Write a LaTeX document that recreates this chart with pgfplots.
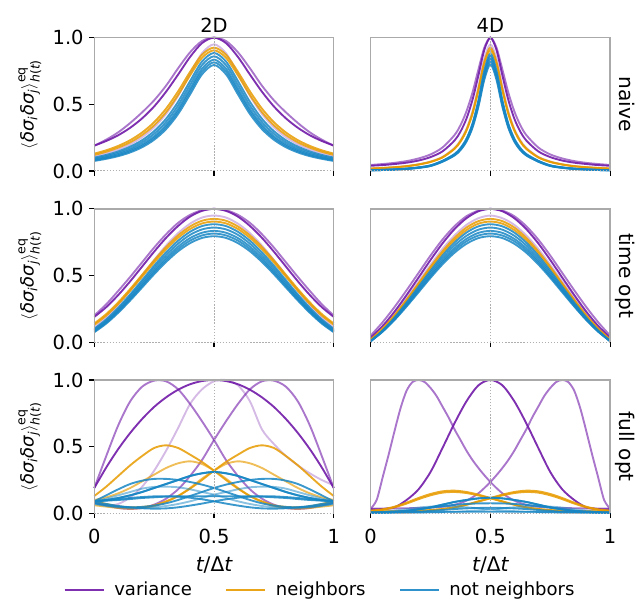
\documentclass[12pt,border=0pt]{standalone}
\usepackage{fontspec}
\setmainfont{DejaVu Sans}
\usepackage{pgfplots}
\pgfplotsset{compat=1.18}
\usepackage{pgfplotstable}
\usetikzlibrary{calc}

\definecolor{cpur}{RGB}{112,26,168}
\definecolor{corg}{RGB}{232,155,0}
\definecolor{cblu}{RGB}{24,134,196}
\definecolor{cspine}{RGB}{170,170,170}
\definecolor{cdot}{RGB}{175,175,175}

\newcommand{\sm}[1]{\mbox{\fontsize{9}{10}\selectfont #1}}
\newcommand{\ylab}{$\langle\mbox{\itshape δσ}_{\sm{\itshape i}}\mbox{\itshape δσ}_{\sm{\itshape j}}\rangle^{\sm{eq}}_{\sm{\itshape h}\sm{(}\sm{\itshape t}\sm{)}}$}

% 2D naive
\pgfplotstableread{
t pd pl pp o1 o2 b1 b2 b3 b4 b5
0.00 0.190 0.190 0.110 0.130 0.120 0.100 0.092 0.085 0.080 0.075
0.05 0.225 0.235 0.132 0.155 0.144 0.120 0.111 0.103 0.097 0.091
0.10 0.268 0.290 0.161 0.188 0.175 0.147 0.136 0.126 0.118 0.111
0.15 0.324 0.360 0.200 0.231 0.215 0.183 0.169 0.157 0.148 0.139
0.20 0.395 0.440 0.253 0.289 0.270 0.231 0.215 0.200 0.189 0.178
0.25 0.484 0.530 0.327 0.366 0.343 0.299 0.279 0.260 0.247 0.234
0.30 0.595 0.640 0.428 0.468 0.442 0.392 0.368 0.346 0.330 0.314
0.35 0.723 0.770 0.563 0.597 0.570 0.519 0.491 0.465 0.446 0.427
0.40 0.855 0.890 0.728 0.743 0.717 0.674 0.645 0.617 0.596 0.574
0.45 0.959 0.975 0.883 0.872 0.849 0.821 0.794 0.767 0.746 0.725
0.50 1.000 1.000 0.950 0.925 0.905 0.885 0.860 0.835 0.815 0.795
0.55 0.959 0.975 0.883 0.872 0.849 0.821 0.794 0.767 0.746 0.725
0.60 0.855 0.890 0.728 0.743 0.717 0.674 0.645 0.617 0.596 0.574
0.65 0.723 0.770 0.563 0.597 0.570 0.519 0.491 0.465 0.446 0.427
0.70 0.595 0.640 0.428 0.468 0.442 0.392 0.368 0.346 0.330 0.314
0.75 0.484 0.530 0.327 0.366 0.343 0.299 0.279 0.260 0.247 0.234
0.80 0.395 0.440 0.253 0.289 0.270 0.231 0.215 0.200 0.189 0.178
0.85 0.324 0.360 0.200 0.231 0.215 0.183 0.169 0.157 0.148 0.139
0.90 0.268 0.290 0.161 0.188 0.175 0.147 0.136 0.126 0.118 0.111
0.95 0.225 0.235 0.132 0.155 0.144 0.120 0.111 0.103 0.097 0.091
1.00 0.190 0.190 0.110 0.130 0.120 0.100 0.092 0.085 0.080 0.075
}\tA

% 4D naive
\pgfplotstableread{
t pd pl pp o1 o2 b1 b2 b3 b4 b5
0.000 0.039 0.045 0.019 0.018 0.018 0.006 0.006 0.005 0.005 0.005
0.050 0.044 0.052 0.023 0.022 0.022 0.008 0.008 0.007 0.007 0.007
0.100 0.052 0.061 0.029 0.028 0.027 0.012 0.011 0.011 0.010 0.010
0.150 0.062 0.074 0.037 0.036 0.035 0.018 0.017 0.016 0.016 0.015
0.200 0.078 0.094 0.050 0.049 0.048 0.027 0.026 0.025 0.024 0.023
0.250 0.104 0.124 0.071 0.069 0.067 0.042 0.041 0.040 0.038 0.037
0.300 0.147 0.176 0.106 0.103 0.101 0.076 0.075 0.073 0.071 0.069
0.350 0.228 0.269 0.173 0.168 0.165 0.127 0.124 0.121 0.118 0.116
0.375 0.295 0.343 0.230 0.224 0.219 0.172 0.168 0.164 0.160 0.156
0.400 0.392 0.447 0.316 0.308 0.302 0.242 0.237 0.231 0.226 0.220
0.425 0.532 0.587 0.447 0.435 0.426 0.355 0.347 0.339 0.331 0.323
0.450 0.717 0.761 0.634 0.617 0.603 0.531 0.519 0.507 0.495 0.482
0.475 0.910 0.927 0.844 0.822 0.804 0.756 0.738 0.721 0.704 0.687
0.500 1.000 1.000 0.950 0.925 0.905 0.880 0.860 0.840 0.820 0.800
0.525 0.910 0.927 0.844 0.822 0.804 0.756 0.738 0.721 0.704 0.687
0.550 0.717 0.761 0.634 0.617 0.603 0.531 0.519 0.507 0.495 0.482
0.575 0.532 0.587 0.447 0.435 0.426 0.355 0.347 0.339 0.331 0.323
0.600 0.392 0.447 0.316 0.308 0.302 0.242 0.237 0.231 0.226 0.220
0.625 0.295 0.343 0.230 0.224 0.219 0.172 0.168 0.164 0.160 0.156
0.650 0.228 0.269 0.173 0.168 0.165 0.127 0.124 0.121 0.118 0.116
0.700 0.147 0.176 0.106 0.103 0.101 0.076 0.075 0.073 0.071 0.069
0.750 0.104 0.124 0.071 0.069 0.067 0.042 0.041 0.040 0.038 0.037
0.800 0.078 0.094 0.050 0.049 0.048 0.027 0.026 0.025 0.024 0.023
0.850 0.062 0.074 0.037 0.036 0.035 0.018 0.017 0.016 0.016 0.015
0.900 0.052 0.061 0.029 0.028 0.027 0.012 0.011 0.011 0.010 0.010
0.950 0.044 0.052 0.023 0.022 0.022 0.008 0.008 0.007 0.007 0.007
1.000 0.039 0.045 0.019 0.018 0.018 0.006 0.006 0.005 0.005 0.005
}\tB

% 2D time opt
\pgfplotstableread{
t pd pl pp o1 o2 b1 b2 b3 b4 b5
0.00 0.190 0.200 0.110 0.140 0.130 0.100 0.092 0.085 0.080 0.075
0.05 0.263 0.285 0.186 0.211 0.200 0.171 0.162 0.153 0.147 0.140
0.10 0.354 0.385 0.280 0.299 0.287 0.259 0.247 0.237 0.229 0.221
0.15 0.457 0.490 0.387 0.399 0.386 0.359 0.346 0.333 0.323 0.313
0.20 0.568 0.600 0.502 0.506 0.492 0.466 0.450 0.435 0.423 0.411
0.25 0.679 0.710 0.617 0.614 0.598 0.574 0.556 0.538 0.524 0.510
0.30 0.783 0.810 0.725 0.714 0.697 0.674 0.654 0.634 0.618 0.602
0.35 0.872 0.895 0.818 0.801 0.783 0.761 0.739 0.717 0.699 0.682
0.40 0.942 0.955 0.889 0.868 0.849 0.828 0.805 0.781 0.762 0.743
0.45 0.985 0.990 0.935 0.911 0.891 0.871 0.846 0.821 0.801 0.782
0.50 1.000 1.000 0.950 0.925 0.905 0.885 0.860 0.835 0.815 0.795
0.55 0.985 0.990 0.935 0.911 0.891 0.871 0.846 0.821 0.801 0.782
0.60 0.942 0.955 0.889 0.868 0.849 0.828 0.805 0.781 0.762 0.743
0.65 0.872 0.895 0.818 0.801 0.783 0.761 0.739 0.717 0.699 0.682
0.70 0.783 0.810 0.725 0.714 0.697 0.674 0.654 0.634 0.618 0.602
0.75 0.679 0.710 0.617 0.614 0.598 0.574 0.556 0.538 0.524 0.510
0.80 0.568 0.600 0.502 0.506 0.492 0.466 0.450 0.435 0.423 0.411
0.85 0.457 0.490 0.387 0.399 0.386 0.359 0.346 0.333 0.323 0.313
0.90 0.354 0.385 0.280 0.299 0.287 0.259 0.247 0.237 0.229 0.221
0.95 0.263 0.285 0.186 0.211 0.200 0.171 0.162 0.153 0.147 0.140
1.00 0.190 0.200 0.110 0.140 0.130 0.100 0.092 0.085 0.080 0.075
}\tC

% 4D time opt
\pgfplotstableread{
t pd pl pp o1 o2 b1 b2 b3 b4 b5
0.00 0.035 0.050 0.020 0.020 0.018 0.008 0.008 0.008 0.008 0.008
0.05 0.122 0.150 0.105 0.102 0.098 0.087 0.085 0.083 0.081 0.079
0.10 0.230 0.265 0.210 0.203 0.197 0.185 0.180 0.175 0.171 0.167
0.15 0.354 0.390 0.330 0.319 0.311 0.298 0.289 0.281 0.274 0.268
0.20 0.485 0.520 0.455 0.442 0.432 0.417 0.406 0.394 0.385 0.375
0.25 0.617 0.650 0.580 0.566 0.553 0.537 0.522 0.507 0.495 0.483
0.30 0.741 0.770 0.700 0.682 0.667 0.650 0.631 0.613 0.599 0.584
0.35 0.848 0.870 0.800 0.782 0.765 0.747 0.726 0.705 0.688 0.671
0.40 0.930 0.945 0.880 0.860 0.841 0.822 0.798 0.775 0.757 0.738
0.45 0.982 0.987 0.930 0.908 0.889 0.869 0.844 0.820 0.800 0.781
0.50 1.000 1.000 0.950 0.925 0.905 0.885 0.860 0.835 0.815 0.795
0.55 0.982 0.987 0.930 0.908 0.889 0.869 0.844 0.820 0.800 0.781
0.60 0.930 0.945 0.880 0.860 0.841 0.822 0.798 0.775 0.757 0.738
0.65 0.848 0.870 0.800 0.782 0.765 0.747 0.726 0.705 0.688 0.671
0.70 0.741 0.770 0.700 0.682 0.667 0.650 0.631 0.613 0.599 0.584
0.75 0.617 0.650 0.580 0.566 0.553 0.537 0.522 0.507 0.495 0.483
0.80 0.485 0.520 0.455 0.442 0.432 0.417 0.406 0.394 0.385 0.375
0.85 0.354 0.390 0.330 0.319 0.311 0.298 0.289 0.281 0.274 0.268
0.90 0.230 0.265 0.210 0.203 0.197 0.185 0.180 0.175 0.171 0.167
0.95 0.122 0.150 0.105 0.102 0.098 0.087 0.085 0.083 0.081 0.079
1.00 0.035 0.050 0.020 0.020 0.018 0.008 0.008 0.008 0.008 0.008
}\tD

% 2D full opt
\pgfplotstableread{
t pd lp rp pp ol1 or1 ol2 or2 bc bl1 br1 bl2 br2 bf bx1 bx2
0.00 0.190 0.190 0.080 0.080 0.130 0.090 0.100 0.060 0.090 0.090 0.075 0.085 0.070 0.090 0.085 0.090
0.05 0.344 0.430 0.060 0.060 0.200 0.070 0.120 0.050 0.100 0.135 0.060 0.110 0.055 0.095 0.070 0.097
0.10 0.482 0.660 0.040 0.070 0.280 0.052 0.150 0.040 0.115 0.180 0.050 0.135 0.045 0.100 0.055 0.106
0.15 0.603 0.840 0.033 0.120 0.360 0.045 0.190 0.035 0.135 0.220 0.045 0.160 0.040 0.107 0.045 0.115
0.20 0.708 0.950 0.040 0.200 0.430 0.048 0.240 0.040 0.160 0.245 0.048 0.185 0.040 0.115 0.038 0.122
0.25 0.798 0.995 0.065 0.320 0.490 0.060 0.290 0.055 0.190 0.258 0.058 0.198 0.045 0.120 0.035 0.127
0.30 0.870 0.990 0.110 0.470 0.510 0.090 0.340 0.085 0.220 0.258 0.075 0.200 0.055 0.125 0.037 0.128
0.35 0.927 0.930 0.180 0.640 0.490 0.130 0.375 0.130 0.250 0.250 0.100 0.195 0.070 0.127 0.045 0.125
0.40 0.968 0.820 0.280 0.820 0.440 0.185 0.390 0.190 0.280 0.235 0.130 0.180 0.090 0.128 0.058 0.117
0.45 0.992 0.690 0.400 0.930 0.385 0.250 0.370 0.260 0.300 0.215 0.160 0.160 0.115 0.128 0.073 0.105
0.50 1.000 0.550 0.550 0.990 0.320 0.320 0.320 0.320 0.310 0.190 0.190 0.140 0.140 0.128 0.090 0.090
0.55 0.992 0.400 0.690 1.000 0.250 0.385 0.260 0.370 0.300 0.160 0.215 0.115 0.160 0.128 0.105 0.073
0.60 0.968 0.280 0.820 0.960 0.185 0.440 0.190 0.390 0.280 0.130 0.235 0.090 0.180 0.128 0.117 0.058
0.65 0.927 0.180 0.930 0.840 0.130 0.490 0.130 0.375 0.250 0.100 0.250 0.070 0.195 0.127 0.125 0.045
0.70 0.870 0.110 0.990 0.630 0.090 0.510 0.085 0.340 0.220 0.075 0.258 0.055 0.200 0.125 0.128 0.037
0.75 0.798 0.065 0.995 0.520 0.060 0.490 0.055 0.290 0.190 0.058 0.258 0.045 0.198 0.120 0.127 0.035
0.80 0.708 0.040 0.950 0.430 0.048 0.430 0.040 0.240 0.160 0.048 0.245 0.040 0.185 0.115 0.122 0.038
0.85 0.603 0.033 0.840 0.360 0.045 0.360 0.035 0.190 0.135 0.045 0.220 0.040 0.160 0.107 0.115 0.045
0.90 0.482 0.040 0.660 0.300 0.052 0.280 0.040 0.150 0.115 0.050 0.180 0.045 0.135 0.100 0.106 0.055
0.95 0.344 0.060 0.430 0.250 0.070 0.200 0.050 0.120 0.100 0.060 0.135 0.055 0.110 0.095 0.097 0.070
1.00 0.190 0.080 0.190 0.210 0.090 0.130 0.060 0.100 0.090 0.075 0.090 0.070 0.085 0.090 0.090 0.085
}\tE

% 4D full opt, off-centre variances
\pgfplotstableread{
t lp rp
0.000 0.035 0.035
0.025 0.100 0.036
0.050 0.270 0.036
0.075 0.440 0.037
0.100 0.620 0.037
0.125 0.790 0.038
0.150 0.920 0.038
0.175 0.985 0.039
0.200 1.000 0.040
0.225 0.985 0.041
0.250 0.940 0.043
0.275 0.880 0.046
0.300 0.800 0.049
0.325 0.720 0.055
0.350 0.630 0.064
0.375 0.550 0.077
0.400 0.470 0.095
0.425 0.400 0.120
0.450 0.340 0.150
0.475 0.285 0.190
0.500 0.235 0.235
0.525 0.190 0.285
0.550 0.150 0.340
0.575 0.120 0.400
0.600 0.095 0.470
0.625 0.077 0.550
0.650 0.064 0.630
0.675 0.055 0.720
0.700 0.049 0.800
0.725 0.046 0.880
0.750 0.043 0.940
0.775 0.041 0.985
0.800 0.040 1.000
0.825 0.039 0.985
0.850 0.038 0.920
0.875 0.038 0.790
0.900 0.037 0.620
0.925 0.037 0.440
0.950 0.036 0.270
0.975 0.036 0.100
1.000 0.035 0.035
}\tFa

% 4D full opt, rest
\pgfplotstableread{
t pd ol or ol2 or2 bc bm bl br blow bbase
0.00 0.030 0.020 0.018 0.018 0.016 0.005 0.005 0.005 0.005 0.004 0.006
0.05 0.032 0.030 0.016 0.027 0.015 0.007 0.007 0.010 0.004 0.005 0.006
0.10 0.045 0.050 0.015 0.045 0.015 0.010 0.012 0.020 0.004 0.006 0.007
0.15 0.100 0.080 0.016 0.073 0.016 0.018 0.020 0.032 0.004 0.008 0.008
0.20 0.180 0.115 0.019 0.106 0.019 0.030 0.030 0.043 0.005 0.012 0.009
0.25 0.310 0.145 0.024 0.135 0.024 0.045 0.042 0.050 0.006 0.018 0.010
0.30 0.490 0.165 0.032 0.155 0.032 0.065 0.054 0.052 0.008 0.025 0.011
0.35 0.675 0.170 0.045 0.160 0.045 0.085 0.063 0.050 0.011 0.032 0.012
0.40 0.840 0.160 0.065 0.152 0.064 0.100 0.070 0.045 0.016 0.037 0.012
0.45 0.960 0.140 0.090 0.134 0.088 0.112 0.074 0.038 0.022 0.040 0.012
0.50 1.000 0.115 0.115 0.112 0.112 0.117 0.075 0.030 0.030 0.042 0.012
0.55 0.960 0.090 0.140 0.088 0.134 0.112 0.074 0.022 0.038 0.040 0.012
0.60 0.840 0.065 0.160 0.064 0.152 0.100 0.070 0.016 0.045 0.037 0.012
0.65 0.675 0.045 0.170 0.045 0.160 0.085 0.063 0.011 0.050 0.032 0.012
0.70 0.490 0.032 0.165 0.032 0.155 0.065 0.054 0.008 0.052 0.025 0.011
0.75 0.310 0.024 0.145 0.024 0.135 0.045 0.042 0.006 0.050 0.018 0.010
0.80 0.180 0.019 0.115 0.019 0.106 0.030 0.030 0.005 0.043 0.012 0.009
0.85 0.100 0.016 0.080 0.016 0.073 0.018 0.020 0.004 0.032 0.008 0.008
0.90 0.045 0.015 0.050 0.015 0.045 0.010 0.012 0.004 0.020 0.006 0.007
0.95 0.032 0.016 0.030 0.015 0.027 0.007 0.007 0.004 0.010 0.005 0.006
1.00 0.030 0.018 0.020 0.016 0.018 0.005 0.005 0.005 0.005 0.004 0.006
}\tFb

\pgfplotsset{
  panel/.style={
    scale only axis, width=172.4pt, height=96pt,
    xmin=0, xmax=1, ymin=0, ymax=1,
    anchor=south west,
    axis line style={draw=none},
    xtick={0,0.5,1}, ytick={0,0.5,1},
    tick align=outside, tickpos=left,
    major tick length=3.5pt,
    every tick/.style={black, line width=0.8pt},
    clip=false,
    tick label style={font=\fontsize{14}{16}\selectfont},
    xticklabel style={yshift=-3.5pt},
    xlabel style={font=\fontsize{14.5}{17}\selectfont, yshift=-1pt},
    ylabel style={font=\fontsize{13}{15}\selectfont},
    title style={font=\fontsize{14}{16}\selectfont, yshift=-6.5pt},
  },
  cvbase/.style={line width=1.35pt, smooth, no markers, forget plot},
  pcd/.style={cvbase, cpur, opacity=0.9},
  pcl/.style={cvbase, cpur, opacity=0.6},
  pcp/.style={cvbase, cpur, opacity=0.3},
  oc/.style={cvbase, corg, opacity=0.85},
  bcs/.style={cvbase, cblu, opacity=0.85},
  bcl/.style={cvbase, cblu, opacity=0.5},
}

\newcommand{\decor}{%
  \draw[cdot, line width=0.7pt, dash pattern=on 1pt off 1.2pt] (axis cs:0,0) -- (axis cs:1,0);
  \draw[cdot, line width=0.7pt, dash pattern=on 1pt off 1.2pt] (axis cs:0.5,0) -- (axis cs:0.5,1);
  \draw[cspine, line width=1pt] (rel axis cs:0,0) -- (rel axis cs:0,1) -- (rel axis cs:1,1) -- (rel axis cs:1,0);
}
\newcommand{\rowlab}[1]{\node[rotate=-90, anchor=base, inner sep=0pt, font=\fontsize{14.5}{17}\selectfont] at ($(rel axis cs:1,0.5)+(6.5pt,0)$) {#1};}
\newcommand{\sym}[1]{%
  \addplot[pcl] table[x=t,y=pl]{#1};
  \addplot[pcp] table[x=t,y=pp]{#1};
  \addplot[pcd] table[x=t,y=pd]{#1};
  \addplot[oc] table[x=t,y=o1]{#1};
  \addplot[oc] table[x=t,y=o2]{#1};
  \addplot[bcs] table[x=t,y=b1]{#1};
  \addplot[bcs] table[x=t,y=b2]{#1};
  \addplot[bcs] table[x=t,y=b3]{#1};
  \addplot[bcs] table[x=t,y=b4]{#1};
  \addplot[bcs] table[x=t,y=b5]{#1};
}

\begin{document}
\begin{tikzpicture}
\path[use as bounding box] (0,0) rectangle (460.1pt,432.7pt);

% row 1
\begin{axis}[panel, at={(67.9pt,309.6pt)}, title={2D}, ylabel={\ylab},
  yticklabels={\mbox{0.0},\mbox{0.5},\mbox{1.0}}, xticklabels={}]
\sym{\tA}
\decor
\end{axis}
\begin{axis}[panel, at={(266.9pt,309.6pt)}, title={4D}, ytick=\empty, xticklabels={}]
\sym{\tB}
\decor
\rowlab{naive}
\end{axis}

% row 2
\begin{axis}[panel, at={(67.9pt,186.3pt)}, ylabel={\ylab},
  yticklabels={\mbox{0.0},\mbox{0.5},\mbox{1.0}}, xticklabels={}]
\sym{\tC}
\decor
\end{axis}
\begin{axis}[panel, at={(266.9pt,186.3pt)}, ytick=\empty, xticklabels={}]
\sym{\tD}
\decor
\rowlab{time opt}
\end{axis}

% row 3
\begin{axis}[panel, at={(67.9pt,63.1pt)}, ylabel={\ylab},
  yticklabels={\mbox{0.0},\mbox{0.5},\mbox{1.0}},
  xticklabels={\mbox{0},\mbox{0.5},\mbox{1}},
  xlabel={{\itshape t}/Δ{\itshape t}},
  legend style={at={(0.945,-0.575)}, anchor=center, draw=none, fill=none,
    font=\fontsize{13}{15}\selectfont,
    /tikz/every odd column/.append style={column sep=5pt},
    /tikz/every even column/.append style={column sep=22pt}},
  legend columns=3,
  legend image code/.code={\draw[#1] (0pt,0pt) -- (28pt,0pt);}]
\addlegendimage{cpur, line width=1.35pt, opacity=0.9}
\addlegendentry{variance}
\addlegendimage{corg, line width=1.35pt, opacity=0.9}
\addlegendentry{neighbors}
\addlegendimage{cblu, line width=1.35pt, opacity=0.9}
\addlegendentry{not neighbors}
\addplot[pcl] table[x=t,y=lp]{\tE};
\addplot[pcl] table[x=t,y=rp]{\tE};
\addplot[pcp] table[x=t,y=pp]{\tE};
\addplot[pcd] table[x=t,y=pd]{\tE};
\addplot[oc] table[x=t,y=ol1]{\tE};
\addplot[oc] table[x=t,y=or1]{\tE};
\addplot[oc, opacity=0.65] table[x=t,y=ol2]{\tE};
\addplot[oc, opacity=0.65] table[x=t,y=or2]{\tE};
\addplot[bcs] table[x=t,y=bc]{\tE};
\addplot[bcs] table[x=t,y=bc]{\tE};
\addplot[bcs] table[x=t,y=bl1]{\tE};
\addplot[bcs] table[x=t,y=br1]{\tE};
\addplot[bcl] table[x=t,y=bl2]{\tE};
\addplot[bcl] table[x=t,y=br2]{\tE};
\addplot[bcs] table[x=t,y=bf]{\tE};
\addplot[bcs] table[x=t,y=bx1]{\tE};
\addplot[bcs] table[x=t,y=bx2]{\tE};
\decor
\end{axis}
\begin{axis}[panel, at={(266.9pt,63.1pt)}, ytick=\empty,
  xticklabels={\mbox{0},\mbox{0.5},\mbox{1}},
  xlabel={{\itshape t}/Δ{\itshape t}}]
\addplot[pcl] table[x=t,y=lp]{\tFa};
\addplot[pcl] table[x=t,y=rp]{\tFa};
\addplot[pcd] table[x=t,y=pd]{\tFb};
\addplot[oc] table[x=t,y=ol]{\tFb};
\addplot[oc] table[x=t,y=or]{\tFb};
\addplot[oc] table[x=t,y=ol2]{\tFb};
\addplot[oc] table[x=t,y=or2]{\tFb};
\addplot[bcs] table[x=t,y=bc]{\tFb};
\addplot[bcs] table[x=t,y=bc]{\tFb};
\addplot[bcs] table[x=t,y=bm]{\tFb};
\addplot[bcl] table[x=t,y=bl]{\tFb};
\addplot[bcl] table[x=t,y=br]{\tFb};
\addplot[bcs] table[x=t,y=blow]{\tFb};
\addplot[bcs] table[x=t,y=bbase]{\tFb};
\decor
\rowlab{full opt}
\end{axis}
\end{tikzpicture}
\end{document}
